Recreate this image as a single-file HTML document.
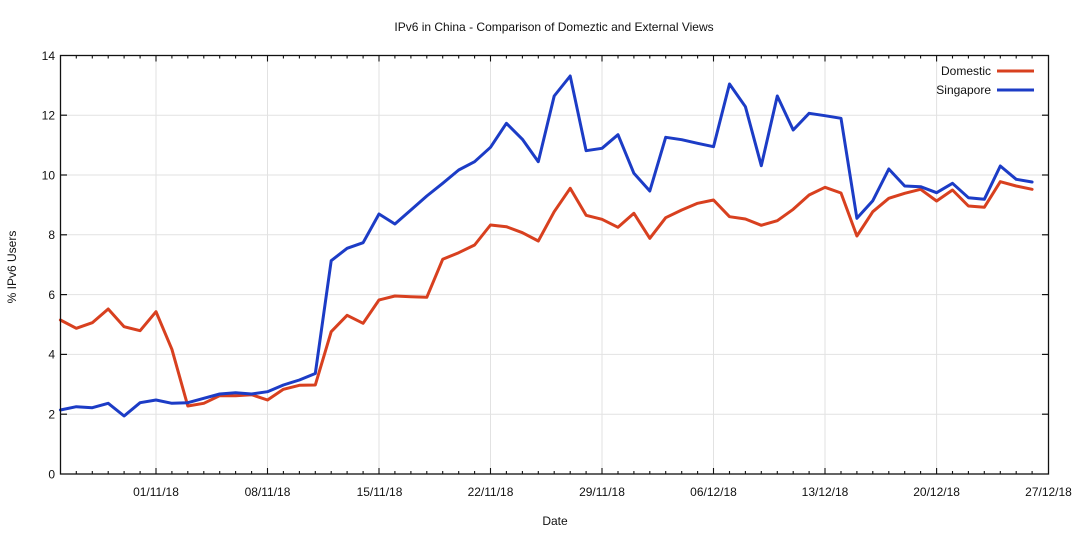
<!DOCTYPE html>
<html>
<head>
<meta charset="utf-8">
<style>
  html, body { margin: 0; padding: 0; background: #ffffff; }
  svg { display: block; }
  text { font-family: "Liberation Sans", Arial, sans-serif; fill: #111; }
</style>
</head>
<body>
<svg width="1072" height="535" viewBox="0 0 1072 535" xmlns="http://www.w3.org/2000/svg">
  <rect x="0" y="0" width="1072" height="535" fill="#ffffff"/>

  <!-- Title -->
  <text x="554" y="31" font-size="12" text-anchor="middle">IPv6 in China - Comparison of Domeztic and External Views</text>

  <!-- Gridlines -->
  <g stroke="#e2e2e2" stroke-width="1">
    <line x1="60.5" y1="414.2" x2="1048.5" y2="414.2"/>
    <line x1="60.5" y1="354.4" x2="1048.5" y2="354.4"/>
    <line x1="60.5" y1="294.6" x2="1048.5" y2="294.6"/>
    <line x1="60.5" y1="234.8" x2="1048.5" y2="234.8"/>
    <line x1="60.5" y1="175.0" x2="1048.5" y2="175.0"/>
    <line x1="60.5" y1="115.2" x2="1048.5" y2="115.2"/>
    <line x1="156.0" y1="55.5" x2="156.0" y2="474"/>
    <line x1="267.5" y1="55.5" x2="267.5" y2="474"/>
    <line x1="379.0" y1="55.5" x2="379.0" y2="474"/>
    <line x1="490.5" y1="55.5" x2="490.5" y2="474"/>
    <line x1="602.0" y1="55.5" x2="602.0" y2="474"/>
    <line x1="713.5" y1="55.5" x2="713.5" y2="474"/>
    <line x1="825.0" y1="55.5" x2="825.0" y2="474"/>
    <line x1="936.6" y1="55.5" x2="936.6" y2="474"/>
  </g>

  <!-- Series: Domestic -->
  <polyline fill="none" stroke="#d8401f" stroke-width="3" stroke-linejoin="round" stroke-linecap="round" points="
60.4,320 76.3,328.3 92.3,322.7 108.2,309 124.1,326.7 140.1,330.7 156.0,311.7 171.9,349.3 187.8,406 203.8,403.3
219.7,395.7 235.6,395.7 251.6,394.7 267.5,400 283.4,389.3 299.4,385.3 315.3,385 331.2,331.7 347.1,315.3 363.1,323.3
379.0,300 394.9,296 410.9,296.7 426.8,297.3 442.7,259.3 458.7,252.7 474.6,245 490.5,225 506.4,226.7 522.4,232.7
538.3,241 554.2,211.7 570.2,188.3 586.1,215.3 602.0,219.3 618.0,227.3 633.9,213.3 649.8,238.3 665.7,217.7 681.7,210
697.6,203.3 713.5,200 729.5,216.7 745.4,219 761.3,225.3 777.3,220.7 793.2,209.3 809.1,195 825.0,187.3 841.0,193
856.9,236 872.8,211.7 888.8,198.3 904.7,193.3 920.6,189.3 936.6,201 952.5,190 968.4,206 984.3,207.3 1000.3,181.7
1016.2,186 1032.1,189.3"/>

  <!-- Series: Singapore -->
  <polyline fill="none" stroke="#1c3cc6" stroke-width="3" stroke-linejoin="round" stroke-linecap="round" points="
60.4,410 76.3,406.7 92.3,407.7 108.2,403.3 124.1,416 140.1,402.7 156.0,400 171.9,403.3 187.8,402.7 203.8,398.3
219.7,394 235.6,392.7 251.6,394 267.5,391.7 283.4,385 299.4,380 315.3,373.5 331.2,260.7 347.1,248.3 363.1,242.7
379.0,214 394.9,224 410.9,210 426.8,196 442.7,183.3 458.7,170 474.6,161.7 490.5,147.3 506.4,123.3 522.4,139.3
538.3,161.7 554.2,96 570.2,76 586.1,150.7 602.0,148.3 618.0,134.7 633.9,173.3 649.8,191 665.7,137.3 681.7,139.7
697.6,143.3 713.5,146.7 729.5,84 745.4,106.7 761.3,165.7 777.3,96 793.2,130 809.1,113.3 825.0,115.7 841.0,118.3
856.9,218.3 872.8,200.7 888.8,169 904.7,186 920.6,186.7 936.6,192.7 952.5,183.3 968.4,197.7 984.3,199.3 1000.3,166
1016.2,179.3 1032.1,182"/>

  <!-- Frame -->
  <rect x="60.5" y="55.5" width="988" height="418.5" fill="none" stroke="#111" stroke-width="1.3"/>

  <!-- Y ticks (left and right) -->
  <g stroke="#111" stroke-width="1.2">
    <line x1="60.5" y1="414.2" x2="67" y2="414.2"/><line x1="1048.5" y1="414.2" x2="1042" y2="414.2"/>
    <line x1="60.5" y1="354.4" x2="67" y2="354.4"/><line x1="1048.5" y1="354.4" x2="1042" y2="354.4"/>
    <line x1="60.5" y1="294.6" x2="67" y2="294.6"/><line x1="1048.5" y1="294.6" x2="1042" y2="294.6"/>
    <line x1="60.5" y1="234.8" x2="67" y2="234.8"/><line x1="1048.5" y1="234.8" x2="1042" y2="234.8"/>
    <line x1="60.5" y1="175.0" x2="67" y2="175.0"/><line x1="1048.5" y1="175.0" x2="1042" y2="175.0"/>
    <line x1="60.5" y1="115.2" x2="67" y2="115.2"/><line x1="1048.5" y1="115.2" x2="1042" y2="115.2"/>
  </g>

  <!-- X ticks: minor daily, major weekly (bottom and top) -->
  <g stroke="#111" stroke-width="1.1">
    <path d="
M76.3,474v-3 M92.3,474v-3 M108.2,474v-3 M124.1,474v-3 M140.1,474v-3 M156.0,474v-6 M171.9,474v-3 M187.8,474v-3 M203.8,474v-3 M219.7,474v-3
M235.6,474v-3 M251.6,474v-3 M267.5,474v-6 M283.4,474v-3 M299.4,474v-3 M315.3,474v-3 M331.2,474v-3 M347.1,474v-3 M363.1,474v-3 M379.0,474v-6
M394.9,474v-3 M410.9,474v-3 M426.8,474v-3 M442.7,474v-3 M458.7,474v-3 M474.6,474v-3 M490.5,474v-6 M506.4,474v-3 M522.4,474v-3 M538.3,474v-3
M554.2,474v-3 M570.2,474v-3 M586.1,474v-3 M602.0,474v-6 M618.0,474v-3 M633.9,474v-3 M649.8,474v-3 M665.7,474v-3 M681.7,474v-3 M697.6,474v-3
M713.5,474v-6 M729.5,474v-3 M745.4,474v-3 M761.3,474v-3 M777.3,474v-3 M793.2,474v-3 M809.1,474v-3 M825.0,474v-6 M841.0,474v-3 M856.9,474v-3
M872.8,474v-3 M888.8,474v-3 M904.7,474v-3 M920.6,474v-3 M936.6,474v-6 M952.5,474v-3 M968.4,474v-3 M984.3,474v-3 M1000.3,474v-3 M1016.2,474v-3
M1032.1,474v-3
M76.3,55.5v3 M92.3,55.5v3 M108.2,55.5v3 M124.1,55.5v3 M140.1,55.5v3 M156.0,55.5v6 M171.9,55.5v3 M187.8,55.5v3 M203.8,55.5v3 M219.7,55.5v3
M235.6,55.5v3 M251.6,55.5v3 M267.5,55.5v6 M283.4,55.5v3 M299.4,55.5v3 M315.3,55.5v3 M331.2,55.5v3 M347.1,55.5v3 M363.1,55.5v3 M379.0,55.5v6
M394.9,55.5v3 M410.9,55.5v3 M426.8,55.5v3 M442.7,55.5v3 M458.7,55.5v3 M474.6,55.5v3 M490.5,55.5v6 M506.4,55.5v3 M522.4,55.5v3 M538.3,55.5v3
M554.2,55.5v3 M570.2,55.5v3 M586.1,55.5v3 M602.0,55.5v6 M618.0,55.5v3 M633.9,55.5v3 M649.8,55.5v3 M665.7,55.5v3 M681.7,55.5v3 M697.6,55.5v3
M713.5,55.5v6 M729.5,55.5v3 M745.4,55.5v3 M761.3,55.5v3 M777.3,55.5v3 M793.2,55.5v3 M809.1,55.5v3 M825.0,55.5v6 M841.0,55.5v3 M856.9,55.5v3
M872.8,55.5v3 M888.8,55.5v3 M904.7,55.5v3 M920.6,55.5v3 M936.6,55.5v6 M952.5,55.5v3 M968.4,55.5v3 M984.3,55.5v3 M1000.3,55.5v3 M1016.2,55.5v3
M1032.1,55.5v3"/>
  </g>

  <!-- Y tick labels -->
  <g font-size="12" text-anchor="end">
    <text x="55" y="478.5">0</text>
    <text x="55" y="418.5">2</text>
    <text x="55" y="358.7">4</text>
    <text x="55" y="298.9">6</text>
    <text x="55" y="239.1">8</text>
    <text x="55" y="179.3">10</text>
    <text x="55" y="119.5">12</text>
    <text x="55" y="59.8">14</text>
  </g>

  <!-- X tick labels -->
  <g font-size="12" text-anchor="middle">
    <text x="156.0" y="496">01/11/18</text>
    <text x="267.5" y="496">08/11/18</text>
    <text x="379.5" y="496">15/11/18</text>
    <text x="490.5" y="496">22/11/18</text>
    <text x="602.0" y="496">29/11/18</text>
    <text x="713.5" y="496">06/12/18</text>
    <text x="825.0" y="496">13/12/18</text>
    <text x="936.6" y="496">20/12/18</text>
    <text x="1048.5" y="496">27/12/18</text>
  </g>

  <!-- Axis labels -->
  <text x="555" y="525" font-size="12" text-anchor="middle">Date</text>
  <text x="0" y="0" font-size="12" text-anchor="middle" transform="translate(16,267) rotate(-90)">% IPv6 Users</text>

  <!-- Legend -->
  <text x="991" y="75" font-size="12" text-anchor="end">Domestic</text>
  <line x1="997" y1="71" x2="1034" y2="71" stroke="#d8401f" stroke-width="3"/>
  <text x="991" y="94" font-size="12" text-anchor="end">Singapore</text>
  <line x1="997" y1="90" x2="1034" y2="90" stroke="#1c3cc6" stroke-width="3"/>
</svg>
</body>
</html>
